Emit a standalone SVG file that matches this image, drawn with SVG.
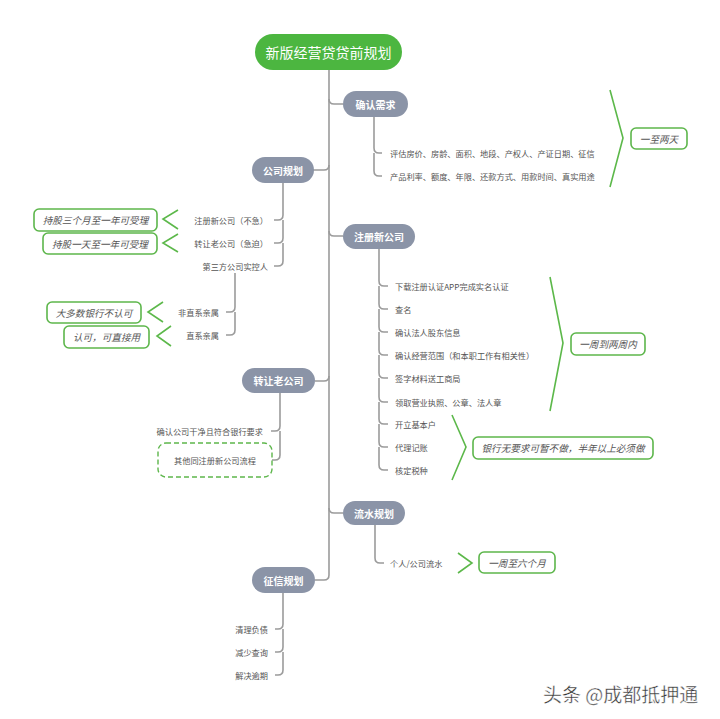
<svg xmlns="http://www.w3.org/2000/svg" width="720" height="719" viewBox="0 0 720 719">
<style>
text{font-family:"Noto Sans CJK SC","Noto Sans",sans-serif}
.lnk{fill:none;stroke:#9b9b9b;stroke-width:1.6}
.node rect{fill:#8b94a7}
.node text{fill:#fff;font-size:10px;font-weight:bold;text-anchor:middle;dominant-baseline:central}
.it{fill:#555;font-size:8.2px;dominant-baseline:central}
.r{text-anchor:end}
.gb rect{fill:#fff;stroke:#5db64b;stroke-width:1.6}
.gb text{fill:#555;font-size:9.6px;font-style:italic;text-anchor:middle;dominant-baseline:central}
.br{fill:none;stroke:#5cb84a;stroke-width:1.6}
</style>
<rect width="720" height="719" fill="#fff"/>
<g id="connectors">
<path class="lnk" d="M329,70 V575 Q329,580 324,580 H315"/>
<path class="lnk" d="M329,99 Q329,104 334,104 H343"/>
<path class="lnk" d="M329,165 Q329,170 324,170 H313"/>
<path class="lnk" d="M329,231 Q329,236 334,236 H343"/>
<path class="lnk" d="M329,376 Q329,381 324,381 H315"/>
<path class="lnk" d="M329,508 Q329,513 334,513 H343"/>
<path class="lnk" d="M374,117 V148 Q374,153 379,153 H382 M374,153 V171 Q374,176 379,176 H382"/>
<path class="lnk" d="M283,183 V215 Q283,220 278,220 H274 M283,220 V238 Q283,243 278,243 H274 M283,243 V261 Q283,266 278,266 H274"/>
<path class="lnk" d="M235,273 V307 Q235,312 230,312 H226 M235,312 V330 Q235,335 230,335 H226"/>
<path class="lnk" d="M280,393 V426 Q280,431 275,431 H271 M280,431 V455 Q280,460 275,460 H272"/>
<path class="lnk" d="M379,249 V281 Q379,286 384,286 H388 M379,286 V304 Q379,309 384,309 H388 M379,309 V327 Q379,332 384,332 H388 M379,332 V350 Q379,355 384,355 H388 M379,355 V373 Q379,378 384,378 H388 M379,378 V397 Q379,402 384,402 H388 M379,402 V419 Q379,424 384,424 H388 M379,424 V442 Q379,447 384,447 H388 M379,447 V465 Q379,470 384,470 H388"/>
<path class="lnk" d="M375,525 V558 Q375,563 380,563 H384"/>
<path class="lnk" d="M283,593 V624 Q283,629 278,629 H275 M283,629 V647 Q283,652 278,652 H275 M283,652 V670 Q283,675 278,675 H275"/>
<polyline class="br" points="610,90 623,138 610,187"/>
<polyline class="br" points="550,277 563,343 550,411"/>
<polyline class="br" points="452,415 466,447 452,480"/>
<polyline class="br" points="178,210 163,219 178,229"/>
<polyline class="br" points="178,234 163,243 178,252"/>
<polyline class="br" points="163,302 148,312 163,322"/>
<polyline class="br" points="171,326 157,336 171,346"/>
<polyline class="br" points="458,553 472,563 458,573"/>
</g>
<g id="root">
<rect x="255" y="34" width="147" height="36" rx="18" fill="#4cb640"/>
<text x="328.5" y="52" fill="#fff" font-size="14" text-anchor="middle" dominant-baseline="central">新版经营贷贷前规划</text>
</g>
<g id="n-confirm" class="node"><rect x="343" y="91" width="65" height="26" rx="13"/><text x="375.5" y="104">确认需求</text></g>
<g id="n-company" class="node"><rect x="252" y="157" width="62" height="26" rx="13"/><text x="283" y="170">公司规划</text></g>
<g id="n-register" class="node"><rect x="343" y="224" width="72" height="25" rx="12.5"/><text x="379" y="236.5">注册新公司</text></g>
<g id="n-transfer" class="node"><rect x="242" y="368" width="73" height="25" rx="12.5"/><text x="278.5" y="380.5">转让老公司</text></g>
<g id="n-flow" class="node"><rect x="343" y="501" width="62" height="24" rx="12"/><text x="374" y="513">流水规划</text></g>
<g id="n-credit" class="node"><rect x="252" y="567" width="63" height="26" rx="13"/><text x="283.5" y="580">征信规划</text></g>
<g id="items-confirm">
<text class="it" x="390" y="153">评估房价、房龄、面积、地段、产权人、产证日期、征信</text>
<text class="it" x="390" y="176">产品利率、额度、年限、还款方式、用款时间、真实用途</text>
</g>
<g id="items-company">
<text class="it r" x="268" y="220">注册新公司（不急）</text>
<text class="it r" x="268" y="243">转让老公司（急迫）</text>
<text class="it r" x="268" y="266">第三方公司实控人</text>
<text class="it r" x="219" y="312">非直系亲属</text>
<text class="it r" x="219" y="335">直系亲属</text>
</g>
<g id="items-transfer">
<text class="it r" x="263" y="431">确认公司干净且符合银行要求</text>
</g>
<g id="dashed-other">
<rect x="158" y="443" width="114" height="34" rx="8" fill="#fff" stroke="#5db64b" stroke-width="1.4" stroke-dasharray="5,3"/>
<text class="it" x="215" y="460" text-anchor="middle">其他同注册新公司流程</text>
</g>
<g id="items-register">
<text class="it" x="395" y="286">下载注册认证APP完成实名认证</text>
<text class="it" x="395" y="309">查名</text>
<text class="it" x="395" y="332">确认法人股东信息</text>
<text class="it" x="395" y="355">确认经营范围（和本职工作有相关性）</text>
<text class="it" x="395" y="378">签字材料送工商局</text>
<text class="it" x="395" y="402">领取营业执照、公章、法人章</text>
<text class="it" x="395" y="424">开立基本户</text>
<text class="it" x="395" y="447">代理记账</text>
<text class="it" x="395" y="470">核定税种</text>
</g>
<g id="items-flow"><text class="it" x="390" y="563">个人/公司流水</text></g>
<g id="items-credit">
<text class="it r" x="268" y="629">清理负债</text>
<text class="it r" x="268" y="652">减少查询</text>
<text class="it r" x="268" y="675">解决逾期</text>
</g>
<g id="g1" class="gb"><rect x="631" y="128" width="56" height="21" rx="5"/><text x="659" y="138.5">一至两天</text></g>
<g id="g2" class="gb"><rect x="34" y="209" width="123" height="22" rx="5"/><text x="95.5" y="220">持股三个月至一年可受理</text></g>
<g id="g3" class="gb"><rect x="43" y="233" width="114" height="21" rx="5"/><text x="100" y="243.5">持股一天至一年可受理</text></g>
<g id="g4" class="gb"><rect x="47" y="302" width="94" height="21" rx="5"/><text x="94" y="312.5">大多数银行不认可</text></g>
<g id="g5" class="gb"><rect x="64" y="326" width="85" height="22" rx="5"/><text x="106.5" y="337">认可，可直接用</text></g>
<g id="g6" class="gb"><rect x="571" y="333" width="74" height="22" rx="5"/><text x="608" y="344">一周到两周内</text></g>
<g id="g7" class="gb"><rect x="473" y="437" width="180" height="22" rx="5"/><text x="563" y="448">银行无要求可暂不做，半年以上必须做</text></g>
<g id="g8" class="gb"><rect x="479" y="552" width="76" height="21" rx="5"/><text x="517" y="562.5">一周至六个月</text></g>
<text x="543" y="693" font-size="19" fill="#333" stroke="#fff" stroke-width="0.4" dominant-baseline="central">头条 @成都抵押通</text>
</svg>
